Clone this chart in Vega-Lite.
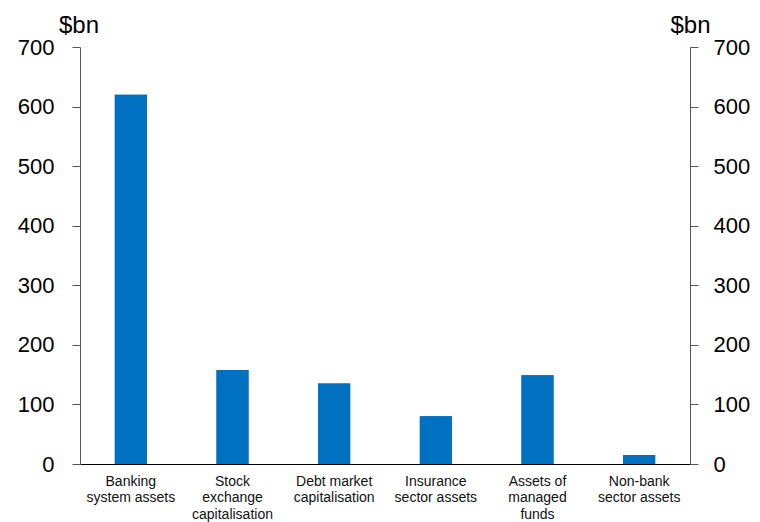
{
  "$schema": "https://vega.github.io/schema/vega-lite/v6.json",
  "autosize": {"type": "none"},
  "width": 610,
  "height": 417,
  "padding": {"left": 80, "top": 47, "right": 70, "bottom": 58},
  "background": "white",
  "config": {"view": {"stroke": null}, "font": "Liberation Sans"},
  "data": {"values": [
    {"cat": "Banking|system assets", "v": 620},
    {"cat": "Stock|exchange|capitalisation", "v": 158},
    {"cat": "Debt market|capitalisation", "v": 135},
    {"cat": "Insurance|sector assets", "v": 80},
    {"cat": "Assets of|managed|funds", "v": 149},
    {"cat": "Non-bank|sector assets", "v": 15}
  ]},
  "encoding": {
    "x": {"field": "cat", "type": "nominal", "sort": null,
      "scale": {"paddingInner": 0.685, "paddingOuter": 0.3425},
      "axis": {"title": null, "labelAngle": 0, "labelExpr": "split(datum.value, '|')",
        "labelFontSize": 14, "labelColor": "#111", "labelLineHeight": 16.5, "labelPadding": 10,
        "ticks": false, "domainColor": "#000", "domainWidth": 1.2, "labelFont": "Liberation Sans"}}
  },
  "layer": [
    {"mark": {"type": "bar", "color": "#0070c0"},
     "encoding": {"y": {"field": "v", "type": "quantitative",
       "scale": {"domain": [0, 700], "nice": false},
       "axis": {"orient": "left", "values": [0,100,200,300,400,500,600,700], "grid": false,
         "title": "$bn", "titleAngle": 0, "titleAlign": "center", "titleBaseline": "alphabetic",
         "titleX": -1.5, "titleY": -15, "titleFontSize": 24, "titleFontWeight": "normal", "titleColor": "#000",
         "labelFontSize": 22, "labelColor": "#000", "labelPadding": 18, "tickSize": 8,
         "tickColor": "#555", "domainColor": "#555", "labelFont": "Liberation Sans", "titleFont": "Liberation Sans"}}}},
    {"mark": {"type": "bar", "color": "#0070c0"},
     "encoding": {"y": {"field": "v", "type": "quantitative",
       "scale": {"domain": [0, 700], "nice": false},
       "axis": {"orient": "right", "values": [0,100,200,300,400,500,600,700], "grid": false,
         "title": "$bn", "titleAngle": 0, "titleAlign": "center", "titleBaseline": "alphabetic",
         "titleX": 0, "titleY": -15, "titleFontSize": 24, "titleFontWeight": "normal", "titleColor": "#000",
         "labelFontSize": 22, "labelColor": "#000", "labelPadding": 15, "tickSize": 8,
         "tickColor": "#555", "domainColor": "#555", "labelFont": "Liberation Sans", "titleFont": "Liberation Sans"}}}}
  ],
  "resolve": {"axis": {"y": "independent"}}
}
